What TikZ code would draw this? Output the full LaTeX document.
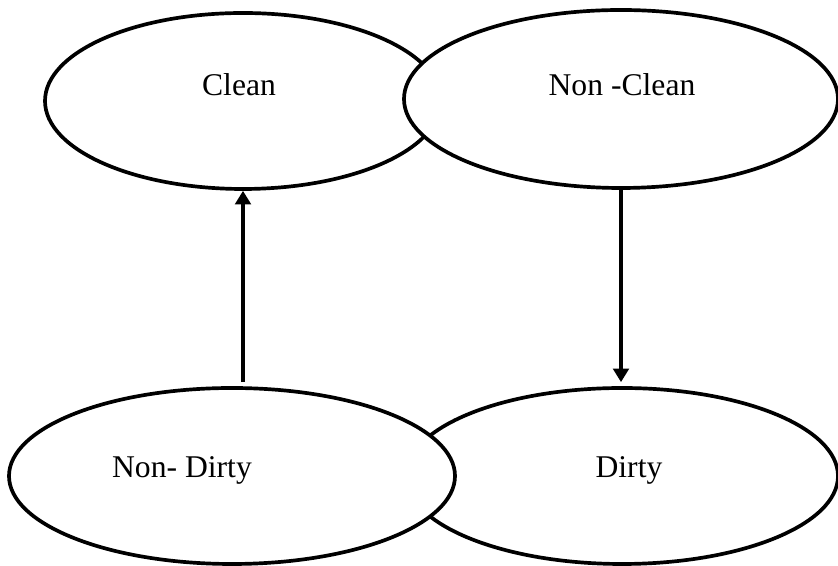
\documentclass[tikz,border=0pt]{standalone}
\usepackage{fontspec}
\setmainfont{Liberation Serif}
\usepackage{tikz}
\usetikzlibrary{arrows.meta, positioning, calc, shapes.geometric}
\tikzset{
  >=Latex,
  state/.style={
    draw=black, fill=white, ellipse, line width=2.1pt, inner sep=0pt
  },
  lab/.style={font=\fontsize{18}{22}\selectfont, anchor=base},
  arr/.style={-{Triangle[length=2.7mm,width=3.1mm]}, line width=2.2pt}
}
\begin{document}
\begin{tikzpicture}
  \useasboundingbox (0,0) rectangle (16.76,11.32);
  % top pair
  \node[state, minimum width=7.92cm, minimum height=3.52cm] (clean) at (4.86,9.30) {};
  \node[state, minimum width=8.68cm, minimum height=3.56cm] (nonclean) at (12.42,9.34) {};
  % bottom pair
  \node[state, minimum width=8.64cm, minimum height=3.52cm] (dirty) at (12.44,1.80) {};
  \node[state, minimum width=8.92cm, minimum height=3.52cm] (nondirty) at (4.64,1.80) {};
  \node[lab] (cleanlab) at (4.78,9.40) {Clean};
  \node[lab] (noncleanlab) at (12.44,9.40) {Non -Clean};
  \node[lab] (nondirtylab) at (3.64,1.76) {Non- Dirty};
  \node[lab] (dirtylab) at (12.58,1.76) {Dirty};
  \draw[arr, shorten <=0.08cm] (clean.south |- nondirty.north) -- (clean.south);
  \draw[arr, shorten >=0.08cm] (nonclean.south) -- (nonclean.south |- dirty.north);
\end{tikzpicture}
\end{document}
